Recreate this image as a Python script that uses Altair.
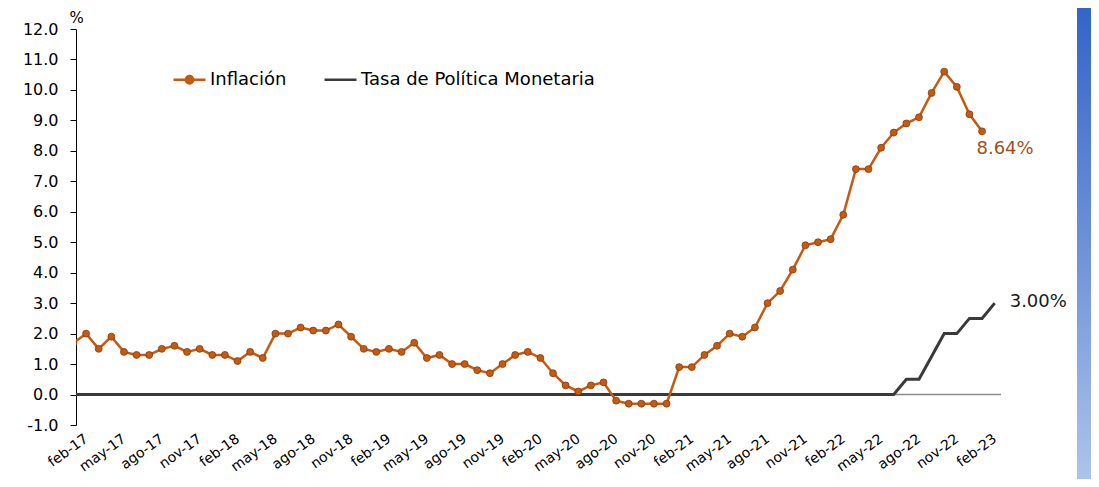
import altair as alt
import pandas as pd

FONT = "DejaVu Sans"

# ---- data ----
x_labels = ["feb-17", "may-17", "ago-17", "nov-17", "feb-18", "may-18", "ago-18", "nov-18",
            "feb-19", "may-19", "ago-19", "nov-19", "feb-20", "may-20", "ago-20", "nov-20",
            "feb-21", "may-21", "ago-21", "nov-21", "feb-22", "may-22", "ago-22", "nov-22",
            "feb-23"]

# monthly, ene-17 .. ene-23
inflacion = [1.7, 2.0, 1.5, 1.9, 1.4, 1.3, 1.3, 1.5, 1.6, 1.4, 1.5, 1.3,
             1.3, 1.1, 1.4, 1.2, 2.0, 2.0, 2.2, 2.1, 2.1, 2.3, 1.9, 1.5,
             1.4, 1.5, 1.4, 1.7, 1.2, 1.3, 1.0, 1.0, 0.8, 0.7, 1.0, 1.3,
             1.4, 1.2, 0.7, 0.3, 0.1, 0.3, 0.4, -0.2, -0.3, -0.3, -0.3, -0.3,
             0.9, 0.9, 1.3, 1.6, 2.0, 1.9, 2.2, 3.0, 3.4, 4.1, 4.9, 5.0,
             5.1, 5.9, 7.4, 7.4, 8.1, 8.6, 8.9, 9.1, 9.9, 10.6, 10.1, 9.2,
             8.64]

# monthly, ene-17 .. feb-23
tpm = [0.0] * 66 + [0.5, 0.5, 1.25, 2.0, 2.0, 2.5, 2.5, 3.0]

series = ["Inflación", "Tasa de Política Monetaria"]
colores = ["#C55A11", "#3A3A3A"]

df_inf = pd.DataFrame({"idx": list(range(len(inflacion))), "valor": inflacion, "serie": series[0]})
df_tpm = pd.DataFrame({"idx": list(range(len(tpm))), "valor": tpm, "serie": series[1]})
df_inf_last = df_inf.tail(1).assign(texto=lambda d: d["valor"].map(lambda v: f"{v:.2f}%"))
df_tpm_last = df_tpm.tail(1).assign(texto=lambda d: d["valor"].map(lambda v: f"{v:.2f}%"))

W, H = 925, 396

x_scale = alt.Scale(domain=[0.2, 73.5], nice=False, zero=False)
y_scale = alt.Scale(domain=[-1, 12], nice=False, zero=False)
color_scale = alt.Scale(domain=series, range=colores)

label_expr = "[" + ",".join(f"'{l}'" for l in x_labels) + "][round((datum.value - 1) / 3)]"
x_axis = alt.Axis(values=[1 + 3 * i for i in range(len(x_labels))], labelExpr=label_expr,
                  domain=False, ticks=False, grid=False, labelAngle=-36, labelAlign="right",
                  labelBaseline="middle", labelPadding=12, labelFont=FONT, labelFontSize=14,
                  labelColor="#000000", labelOverlap=False, labelBound=False, title=None)
y_axis = alt.Axis(values=list(range(-1, 13)),
                  labelExpr="datum.value < 0 ? '-' + format(-datum.value, '.1f') : format(datum.value, '.1f')",
                  grid=False, domainColor="#000000", domainWidth=1, tickColor="#000000",
                  tickSize=6, labelPadding=12, labelFont=FONT, labelFontSize=16,
                  labelColor="#000000", title="%", titleAngle=0, titleX=0, titleY=-4,
                  titleAlign="center", titleBaseline="bottom", titleFont=FONT,
                  titleFontSize=15, titleFontWeight="normal", titleColor="#000000")

sym_inf = "M-1,0L1,0M0.23,0A0.23,0.23,0,1,1,-0.23,0A0.23,0.23,0,1,1,0.23,0Z"
legend = alt.Legend(orient="none", legendX=96, legendY=33, direction="horizontal",
                    title=None, padding=0, symbolSize=1024, symbolStrokeWidth=2.5,
                    symbolType={"expr": "datum.value === 'Inflación' ? '" + sym_inf + "' : 'stroke'"},
                    symbolFillColor="#C55A11", labelLimit=500,
                    labelFont=FONT, labelFontSize=18, labelColor="#000000", labelOffset=3,
                    columnPadding=32)

X = alt.X("idx:Q", scale=x_scale, axis=x_axis)
Y = alt.Y("valor:Q", scale=y_scale, axis=y_axis)

zero = alt.Chart(pd.DataFrame({"y": [0]})).mark_rule(color="#8C8C8C", strokeWidth=1.5).encode(
    y=alt.Y("y:Q", scale=y_scale, axis=y_axis))

tpm_line = alt.Chart(df_tpm).mark_line(strokeWidth=3, clip=True).encode(
    x=X, y=Y, color=alt.Color("serie:N", scale=color_scale, legend=legend))

inf_line = alt.Chart(df_inf).mark_line(strokeWidth=2.5, clip=True).encode(
    x=X, y=Y, color=alt.Color("serie:N", scale=color_scale, legend=legend))

inf_pts = alt.Chart(df_inf).mark_point(filled=True, size=48, fill="#C55A11", stroke="#8A3A0C",
                                       strokeWidth=0.8, opacity=1, clip=True).encode(x=X, y=Y)

inf_txt = alt.Chart(df_inf_last).mark_text(font=FONT, fontSize=18, color="#A0501C", align="center",
                                           baseline="alphabetic", dx=23, dy=23).encode(
    x=X, y=Y, text="texto:N")
tpm_txt = alt.Chart(df_tpm_last).mark_text(font=FONT, fontSize=18, color="#1A1A1A", align="left",
                                           baseline="alphabetic", dx=15, dy=4).encode(
    x=X, y=Y, text="texto:N")

deco = alt.Chart(pd.DataFrame({"a": [0]})).mark_rect(
    color=alt.Gradient(gradient="linear",
                       stops=[alt.GradientStop(color="#2F61C8", offset=0),
                              alt.GradientStop(color="#6C91D9", offset=0.5),
                              alt.GradientStop(color="#B4C7EC", offset=1)],
                       x1=0, x2=0, y1=0, y2=1)).encode(
    x=alt.value(1001), x2=alt.value(1030), y=alt.value(-40), y2=alt.value(470))

chart = alt.layer(zero, tpm_line, inf_line, inf_pts, inf_txt, tpm_txt, deco).properties(
    width=W, height=H,
    autosize=alt.AutoSizeParams(type="none"),
    padding={"left": 68, "top": 21, "right": 90, "bottom": 54},
    background="white",
).configure_view(stroke=None)

chart.save("out.html", embed_options={"renderer": "svg", "actions": False})
